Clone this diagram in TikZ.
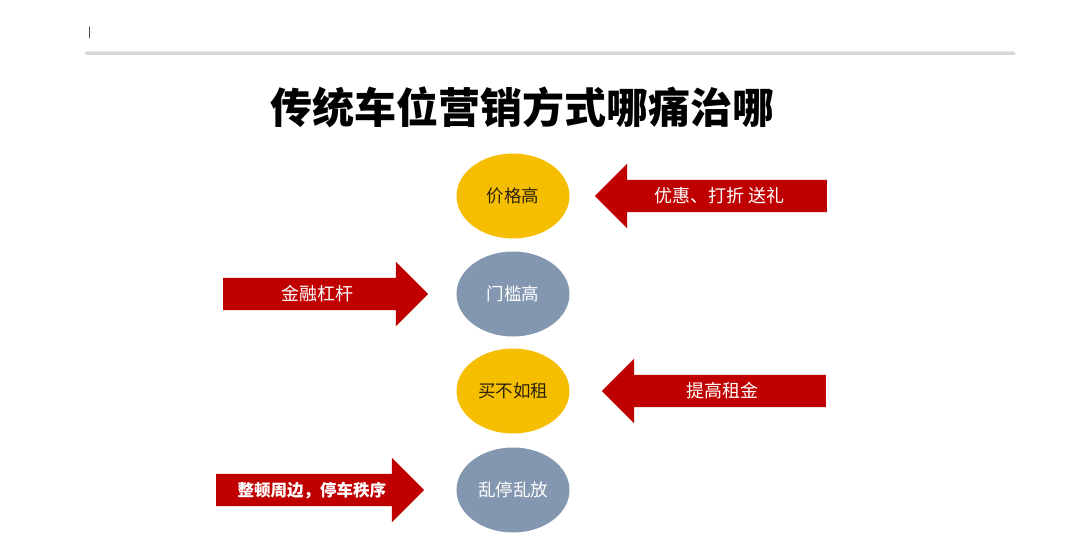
\documentclass[tikz,border=0pt]{standalone}
\usepackage{fontspec}
\setmainfont{Noto Sans CJK SC}
\usetikzlibrary{shapes.geometric,shapes.arrows}
\definecolor{Yfill}{RGB}{246,190,0}
\definecolor{Gfill}{RGB}{132,151,176}
\definecolor{Rfill}{RGB}{192,0,0}
\definecolor{Ytext}{RGB}{45,35,10}
\definecolor{Rule}{RGB}{214,214,214}
\begin{document}
\begin{tikzpicture}[x=1pt,y=-1pt,line cap=round,line join=round,
  spot/.style={ellipse,minimum width=113pt,minimum height=85pt,inner sep=0pt,text height=15pt,text depth=2pt,font=\fontsize{17.5}{18}\selectfont},
  push/.style={single arrow,fill=Rfill,single arrow head extend=16pt,single arrow tip angle=90,minimum height=#1,text height=15pt,text depth=2pt,inner ysep=7.5pt,inner xsep=0pt,text=white,font=\fontsize{18}{19}\selectfont}]
\path[use as bounding box,fill=white] (0,0) rectangle (1080,546);
\draw[line width=0.8pt,black!70] (89,27) -- (89,38);
\draw[line width=3pt,Rule] (86,53) -- (1014,53);
\draw[line width=0.8pt,black!8] (86,51.5) -- (1014,51.5);
\node[font=\fontsize{42}{46}\selectfont\bfseries] (title) at (522,107) {传统车位营销方式哪痛治哪};
\node[spot,fill=Yfill,text=Ytext] (price) at (513,196) {价格高};
\node[spot,fill=Gfill,text=white] (sill) at (513,294) {门槛高};
\node[spot,fill=Yfill,text=Ytext] (rent) at (513,391) {买不如租};
\node[spot,fill=Gfill,text=white] (chaos) at (513,490) {乱停乱放};
\node[push=232pt,shape border rotate=180,anchor=tip] (gift) at ([xshift=25pt]price.east) {优惠、打折 送礼};
\node[push=205pt,anchor=tip] (loan) at ([xshift=-28pt]sill.west) {金融杠杆};
\node[push=224pt,shape border rotate=180,anchor=tip] (raise) at ([xshift=32pt]rent.east) {提高租金};
\node[push=208pt,anchor=tip,font=\fontsize{16.5}{18}\selectfont\bfseries] (order) at ([xshift=-32pt]chaos.west) {整顿周边，停车秩序};
\end{tikzpicture}
\end{document}
